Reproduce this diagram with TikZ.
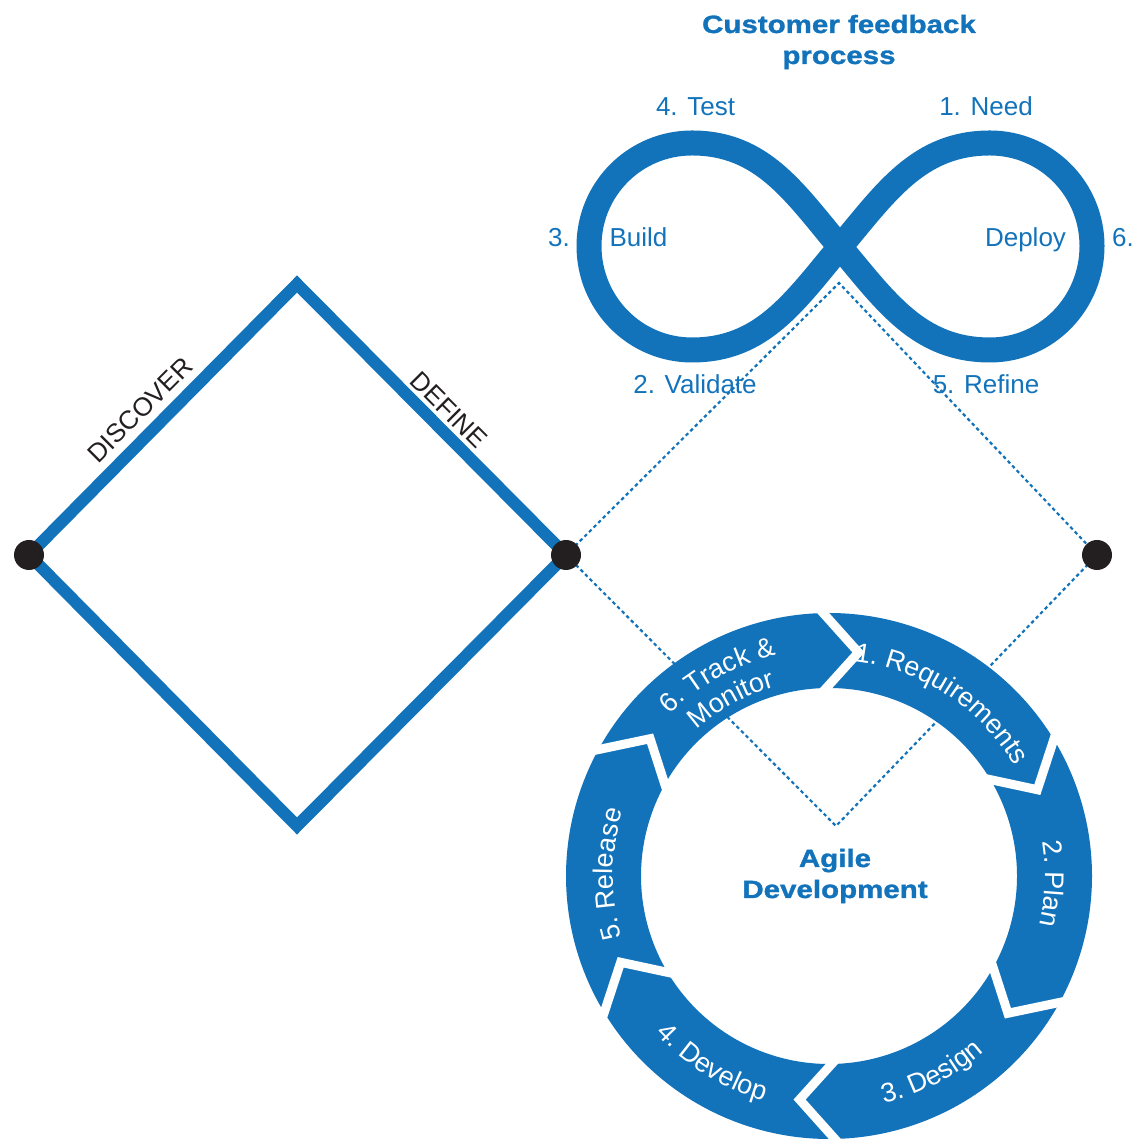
\documentclass[tikz,border=0pt]{standalone}
\usepackage{fontspec}
\setmainfont{Liberation Sans}
\newfontfamily\widefam[FakeStretch=1.18, BoldFeatures={FakeBold=1.3}]{Liberation Sans}
\usetikzlibrary{decorations.text}
\definecolor{mblue}{RGB}{18,115,187}
\definecolor{dotblack}{RGB}{35,31,32}
\newcommand{\ringfont}{\fontsize{27}{31}\selectfont\color{white}}
\begin{document}
\begin{tikzpicture}[x=1pt,y=1pt,
  lbl/.style={text=mblue, font=\fontsize{26}{30}\selectfont, inner sep=0pt, anchor=base},
  phase/.style={text=dotblack, font=\fontsize{26}{30}\selectfont, inner sep=0pt},
  heading/.style={text=mblue, font=\widefam\bfseries\fontsize{25}{31}\selectfont, inner sep=0pt, anchor=base},
  dotnode/.style={circle, fill=dotblack, minimum size=30, inner sep=0pt},
  dotline/.style={mblue, line width=2.2, dash pattern=on 3.5 off 3},
  ringseg/.style={fill=mblue},
  ringgap/.style={draw=white, line width=9, line join=miter},
  ringtext/.style={decorate, decoration={text along path, text align=center, text={|\ringfont|#1}}}
]
\path[use as bounding box] (0,0) rectangle (1137,1139);

% key points
\coordinate (p1) at (29,584);
\coordinate (p2) at (566,584);
\coordinate (p3) at (1097,584);
\coordinate (dtop) at (297,855);
\coordinate (dbot) at (297,313);
\coordinate (apex) at (839,856);
\coordinate (vbot) at (836,313);

% texts of infinity
\node[heading] (title1) at (839,1106) {Customer feedback};
\node[heading] (title2) at (839,1075) {process};
\node[lbl] (test) at (695.5,1023.5) {4. Test};
\node[lbl] (need) at (986,1023.5) {1. Need};
\node[lbl] (n3) at (559,892.5) {3.};
\node[lbl] (build) at (638.5,892.5) {Build};
\node[lbl] (deploy) at (1025.5,892.5) {Deploy};
\node[lbl] (n6) at (1123,892.5) {6.};
\node[lbl] (validate) at (695,745.5) {2. Validate};
\node[lbl] (refine) at (986,745.5) {5. Refine};

% dotted diamond
\draw[dotline] (p2) -- (apex) -- (p3) -- (vbot) -- cycle;

% infinity
\draw[mblue, line width=25, line join=round]
  (840,892) to[out=50,in=180] (990,996) to[out=0,in=90] (1092,893)
  to[out=-90,in=0] (990,789) to[out=180,in=-50] (840,892)
  to[out=130,in=0] (692,996) to[out=180,in=90] (589,893)
  to[out=-90,in=180] (692,789) to[out=0,in=230] (840,892) -- cycle;

% solid diamond
\draw[mblue, line width=12, line join=miter] (p1) -- (dtop) -- (p2) -- (dbot) -- cycle;
\node[phase, rotate=45] (discover) at (140,729) {DISCOVER};
\node[phase, rotate=-45] (define) at (449,729) {DEFINE};

% ring
\begin{scope}[shift={(829,263)}]
\foreach \A in {92,32,-28,-88,-148,-208} {
  \pgfmathsetmacro\B{\A-60}
  \pgfmathsetmacro\T{\B-9.5}
  \pgfmathsetmacro\N{\A-9.5}
  \fill[ringseg] (\A:263) arc[start angle=\A, end angle=\B, radius=263]
     -- (\T:225.5) -- (\B:188) arc[start angle=\B, end angle=\A, radius=188]
     -- (\N:225.5) -- cycle;
}
\foreach \A in {92,32,-28,-88,-148,-208} {
  \pgfmathsetmacro\N{\A-9.5}
  \draw[ringgap] (\A:267) -- (\N:225.5) -- (\A:184);
}
\path[ringtext={1. Requirements}] (117:216) arc[start angle=117, end angle=-3, radius=216];
\path[ringtext={2. Plan}] (58:216) arc[start angle=58, end angle=-62, radius=216];
\path[ringtext={3. Design}] (-122.5:234) arc[start angle=-122.5, end angle=-2.5, radius=234];
\path[ringtext={4. Develop}] (-182:234) arc[start angle=-182, end angle=-62, radius=234];
\path[ringtext={5. Release}] (239.5:216) arc[start angle=239.5, end angle=119.5, radius=216];
\path[ringtext={6. Track {\&}}] (179:227) arc[start angle=179, end angle=59, radius=227];
\path[ringtext={Monitor}] (179:197) arc[start angle=179, end angle=59, radius=197];
\end{scope}
\node[heading] (agile1) at (835,272) {Agile};
\node[heading] (agile2) at (835,241) {Development};

% dots
\node[dotnode] (d1) at (p1) {};
\node[dotnode] (d2) at (p2) {};
\node[dotnode] (d3) at (p3) {};
\end{tikzpicture}
\end{document}
